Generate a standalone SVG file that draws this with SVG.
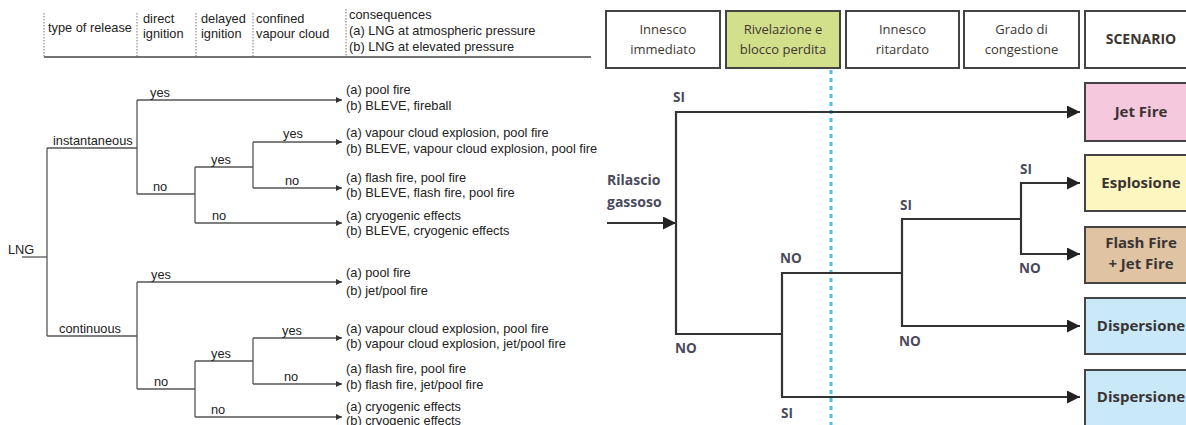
<svg xmlns="http://www.w3.org/2000/svg" width="1186" height="425" viewBox="0 0 1186 425">
  <style>
    .lt { font-family: "Liberation Sans", Arial, sans-serif; font-size: 12.8px; fill: #222; }
    .lline { stroke: #555; stroke-width: 1.3; fill: none; }
    .ldot { stroke: #777; stroke-width: 1; stroke-dasharray: 1.5 1.5; fill: none; }
    .hbox { fill: #fff; stroke: #444; stroke-width: 2; }
    .ht { font-family: "Open Sans", "Noto Sans", sans-serif; font-size: 13px; fill: #3e3630; text-anchor: middle; }
    .hb { font-weight: bold; }
    .rline { stroke: #333; stroke-width: 2.2; fill: none; }
    .lab { font-family: "Open Sans", "Noto Sans", sans-serif; font-size: 13.5px; font-weight: bold; fill: #4a4a5c; }
    .sbox { stroke: #444; stroke-width: 2; }
    .st { font-family: "Open Sans", "Noto Sans", sans-serif; font-size: 15px; font-weight: bold; fill: #3a3434; text-anchor: middle; }
  </style>
  <defs>
    <marker id="sa" viewBox="0 0 10 10" refX="10" refY="5" markerUnits="userSpaceOnUse" markerWidth="9" markerHeight="6" orient="auto">
      <path d="M0,0 L10,5 L0,10 z" fill="#333"/>
    </marker>
    <marker id="ba" viewBox="0 0 10 10" refX="10" refY="5" markerUnits="userSpaceOnUse" markerWidth="16" markerHeight="13" orient="auto">
      <path d="M0,0 L10,5 L0,10 z" fill="#222"/>
    </marker>
  </defs>
  <rect width="1186" height="425" fill="#fff"/>

  <!-- LNG event tree: column headers -->
  <g id="lng-header">
    <line class="ldot" x1="44" y1="13" x2="44" y2="57"/>
    <line class="ldot" x1="137" y1="13" x2="137" y2="57"/>
    <line class="ldot" x1="196" y1="13" x2="196" y2="57"/>
    <line class="ldot" x1="253" y1="13" x2="253" y2="57"/>
    <line class="ldot" x1="346" y1="9" x2="346" y2="57"/>
    <line x1="44" y1="57" x2="591" y2="57" stroke="#444" stroke-width="1.3"/>
    <text class="lt" x="48" y="32">type of release</text>
    <text class="lt" x="143" y="23">direct</text>
    <text class="lt" x="143" y="38">ignition</text>
    <text class="lt" x="201" y="23">delayed</text>
    <text class="lt" x="201" y="38">ignition</text>
    <text class="lt" x="256" y="23">confined</text>
    <text class="lt" x="256" y="38">vapour cloud</text>
    <text class="lt" x="349" y="19">consequences</text>
    <text class="lt" x="349" y="35">(a) LNG at atmospheric pressure</text>
    <text class="lt" x="349" y="51">(b) LNG at elevated pressure</text>
  </g>

  <!-- LNG event tree: branches -->
  <g id="lng-connectors">
    <line class="lline" x1="22" y1="257" x2="47" y2="257"/>
    <line class="lline" x1="47" y1="148" x2="47" y2="336"/>
    <polyline class="lline" points="47,148 137,148"/>
    <polyline class="lline" points="47,336 137,336"/>
    <!-- instantaneous -->
    <line class="lline" x1="137" y1="100" x2="137" y2="194"/>
    <line class="lline" x1="137" y1="100" x2="342" y2="100" marker-end="url(#sa)"/>
    <line class="lline" x1="137" y1="194" x2="195" y2="194"/>
    <line class="lline" x1="195" y1="167" x2="195" y2="223"/>
    <line class="lline" x1="195" y1="167" x2="253" y2="167"/>
    <line class="lline" x1="253" y1="142" x2="253" y2="188"/>
    <line class="lline" x1="253" y1="142" x2="342" y2="142" marker-end="url(#sa)"/>
    <line class="lline" x1="253" y1="188" x2="342" y2="188" marker-end="url(#sa)"/>
    <line class="lline" x1="195" y1="223" x2="342" y2="223" marker-end="url(#sa)"/>
    <!-- continuous -->
    <line class="lline" x1="137" y1="282" x2="137" y2="389"/>
    <line class="lline" x1="137" y1="282" x2="342" y2="282" marker-end="url(#sa)"/>
    <line class="lline" x1="137" y1="389" x2="195" y2="389"/>
    <line class="lline" x1="195" y1="361" x2="195" y2="417"/>
    <line class="lline" x1="195" y1="361" x2="253" y2="361"/>
    <line class="lline" x1="253" y1="338" x2="253" y2="384"/>
    <line class="lline" x1="253" y1="338" x2="342" y2="338" marker-end="url(#sa)"/>
    <line class="lline" x1="253" y1="384" x2="342" y2="384" marker-end="url(#sa)"/>
    <line class="lline" x1="195" y1="417" x2="342" y2="417" marker-end="url(#sa)"/>
  </g>

  <g id="lng-labels">
    <text class="lt" x="8" y="254">LNG</text>
    <text class="lt" x="53" y="145">instantaneous</text>
    <text class="lt" x="59" y="333">continuous</text>
    <text class="lt" x="150" y="97">yes</text>
    <text class="lt" x="153" y="191">no</text>
    <text class="lt" x="211" y="164">yes</text>
    <text class="lt" x="212" y="220">no</text>
    <text class="lt" x="283" y="138">yes</text>
    <text class="lt" x="285" y="185">no</text>
    <text class="lt" x="151" y="279">yes</text>
    <text class="lt" x="154" y="386">no</text>
    <text class="lt" x="211" y="358">yes</text>
    <text class="lt" x="211" y="414">no</text>
    <text class="lt" x="282" y="335">yes</text>
    <text class="lt" x="284" y="381">no</text>
  </g>

  <g id="lng-consequences">
    <text class="lt" x="346" y="94">(a) pool fire</text>
    <text class="lt" x="346" y="110">(b) BLEVE, fireball</text>
    <text class="lt" x="346" y="137">(a) vapour cloud explosion, pool fire</text>
    <text class="lt" x="346" y="153">(b) BLEVE, vapour cloud explosion, pool fire</text>
    <text class="lt" x="346" y="182">(a) flash fire, pool fire</text>
    <text class="lt" x="346" y="197">(b) BLEVE, flash fire, pool fire</text>
    <text class="lt" x="346" y="220">(a) cryogenic effects</text>
    <text class="lt" x="346" y="235">(b) BLEVE, cryogenic effects</text>
    <text class="lt" x="346" y="277">(a) pool fire</text>
    <text class="lt" x="346" y="295">(b) jet/pool fire</text>
    <text class="lt" x="346" y="333">(a) vapour cloud explosion, pool fire</text>
    <text class="lt" x="346" y="348">(b) vapour cloud explosion, jet/pool fire</text>
    <text class="lt" x="346" y="373">(a) flash fire, pool fire</text>
    <text class="lt" x="346" y="389">(b) flash fire, jet/pool fire</text>
    <text class="lt" x="346" y="411">(a) cryogenic effects</text>
    <text class="lt" x="346" y="425">(b) cryogenic effects</text>
  </g>

  <!-- Gas release event tree: column headers -->
  <g id="h-innesco-immediato">
    <rect class="hbox" x="606" y="11" width="114" height="57"/>
    <text class="ht" x="663" y="34">Innesco</text>
    <text class="ht" x="663" y="54">immediato</text>
  </g>
  <g id="h-rivelazione">
    <rect class="hbox" x="726" y="11" width="114" height="57" style="fill:#d2e08c"/>
    <text class="ht" x="783" y="34">Rivelazione e</text>
    <text class="ht" x="783" y="54">blocco perdita</text>
  </g>
  <g id="h-innesco-ritardato">
    <rect class="hbox" x="846" y="11" width="113" height="57"/>
    <text class="ht" x="902.5" y="34">Innesco</text>
    <text class="ht" x="902.5" y="54">ritardato</text>
  </g>
  <g id="h-congestione">
    <rect class="hbox" x="964" y="11" width="115" height="57"/>
    <text class="ht" x="1021.5" y="34">Grado di</text>
    <text class="ht" x="1021.5" y="54">congestione</text>
  </g>
  <g id="h-scenario">
    <rect class="hbox" x="1085" y="11" width="112" height="57"/>
    <text class="ht hb" x="1141" y="44" style="font-size:14px">SCENARIO</text>
  </g>

  <!-- detection stage marker -->
  <line x1="831" y1="70" x2="831" y2="425" stroke="#4cc0ee" stroke-width="3" stroke-dasharray="4 4"/>

  <g id="release">
    <text class="lab" x="607" y="185" style="font-size:14px">Rilascio</text>
    <text class="lab" x="607" y="207" style="font-size:14px">gassoso</text>
  </g>

  <g id="gas-connectors">
    <line class="rline" x1="607" y1="223" x2="676" y2="223" marker-end="url(#ba)"/>
    <line class="rline" x1="676" y1="111" x2="676" y2="335"/>
    <line class="rline" x1="675" y1="112" x2="1080" y2="112" marker-end="url(#ba)"/>
    <line class="rline" x1="675" y1="334" x2="783" y2="334"/>
    <line class="rline" x1="782" y1="272" x2="782" y2="398"/>
    <line class="rline" x1="781" y1="273" x2="903" y2="273"/>
    <line class="rline" x1="781" y1="397" x2="1080" y2="397" marker-end="url(#ba)"/>
    <line class="rline" x1="902" y1="218" x2="902" y2="327"/>
    <line class="rline" x1="901" y1="219" x2="1022" y2="219"/>
    <line class="rline" x1="901" y1="326" x2="1080" y2="326" marker-end="url(#ba)"/>
    <line class="rline" x1="1021" y1="182" x2="1021" y2="255"/>
    <line class="rline" x1="1020" y1="183" x2="1080" y2="183" marker-end="url(#ba)"/>
    <line class="rline" x1="1020" y1="254" x2="1080" y2="254" marker-end="url(#ba)"/>
  </g>

  <g id="gas-labels">
    <text class="lab" x="673" y="102">SI</text>
    <text class="lab" x="675" y="353">NO</text>
    <text class="lab" x="780" y="263">NO</text>
    <text class="lab" x="781" y="418">SI</text>
    <text class="lab" x="900" y="210">SI</text>
    <text class="lab" x="899" y="346">NO</text>
    <text class="lab" x="1020" y="174">SI</text>
    <text class="lab" x="1019" y="273">NO</text>
  </g>

  <!-- scenario outcomes -->
  <g id="s-jet-fire">
    <rect class="sbox" x="1085" y="83" width="112" height="58" fill="#f6c8de"/>
    <text class="st" x="1141" y="117">Jet Fire</text>
  </g>
  <g id="s-esplosione">
    <rect class="sbox" x="1085" y="155" width="112" height="56" fill="#fdf6c0"/>
    <text class="st" x="1141" y="188">Esplosione</text>
  </g>
  <g id="s-flash-fire">
    <rect class="sbox" x="1085" y="227" width="112" height="56" fill="#dfc3a2"/>
    <text class="st" x="1141" y="248">Flash Fire</text>
    <text class="st" x="1141" y="269">+ Jet Fire</text>
  </g>
  <g id="s-dispersione-1">
    <rect class="sbox" x="1085" y="298" width="112" height="56" fill="#c9e9f9"/>
    <text class="st" x="1141" y="331">Dispersione</text>
  </g>
  <g id="s-dispersione-2">
    <rect class="sbox" x="1085" y="370" width="112" height="60" fill="#c9e9f9"/>
    <text class="st" x="1141" y="402">Dispersione</text>
  </g>
</svg>
